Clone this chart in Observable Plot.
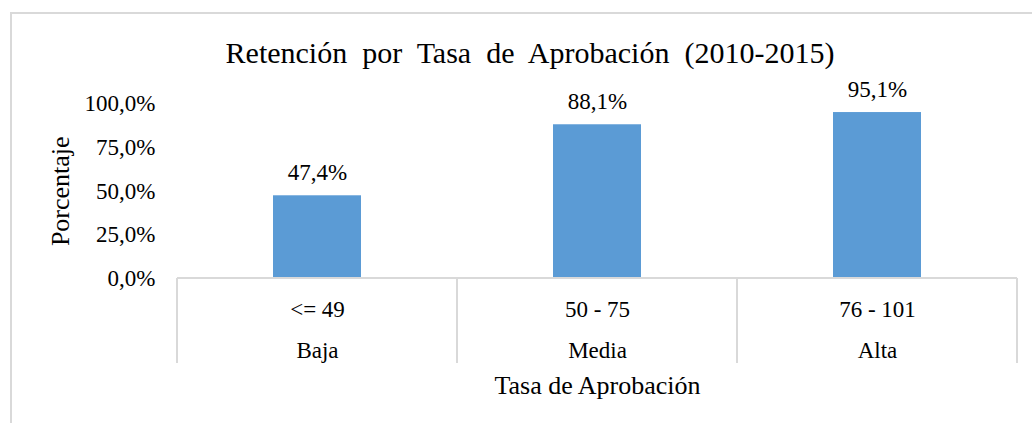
<!DOCTYPE html>
<html>
<head>
<meta charset="utf-8">
<script src="https://cdn.jsdelivr.net/npm/d3@7"></script>
<script src="https://cdn.jsdelivr.net/npm/@observablehq/plot@0.6"></script>
<style>
  html, body { margin: 0; padding: 0; background: #fff; overflow: hidden; width: 1032px; height: 423px; }
  #wrap { position: relative; width: 1032px; height: 423px; font-family: "Liberation Serif", "Times New Roman", serif; }
  #border { position: absolute; left: 10px; top: 12px; width: 1100px; height: 500px; border: 2px solid #d9d9d9; box-sizing: border-box; }
  #title { position: relative; height: 70px; }
  #title span { position: absolute; left: 530px; transform: translateX(-50%); top: 38px; font-size: 30px; line-height: 1; white-space: nowrap; color: #000; word-spacing: 7.5px; }
  #chart { position: relative; }
  #chart svg { display: block; }
</style>
</head>
<body>
<div id="wrap">
  <div id="border"></div>
  <div id="title"><span>Retención por Tasa de Aprobación (2010-2015)</span></div>
  <div id="chart"></div>
</div>
<script>
// Data
const levels = ["Baja", "Media", "Alta"];
const ranges = ["<= 49", "50 - 75", "76 - 101"];
const retention = [47.4, 88.1, 95.1];
const yTicks = [0, 25, 50, 75, 100];
const yLabel = "Porcentaje";
const xLabel = "Tasa de Aprobación";

const data = levels.map((l, i) => ({level: l, range: ranges[i], value: retention[i]}));
const fmt = v => v.toFixed(1).replace(".", ",") + "%";

const W = 1032, H = 353;
const mL = 177, mR = 15, mT = 33.5, mB = 145;
const serif = "Liberation Serif, Times New Roman, serif";
const gridColor = "#d9d9d9";

function dividers(...args) {
  const scales = args.find(a => a && typeof a.x === "function");
  const dims = args.find(a => a && a.marginLeft !== undefined);
  const x = scales.x;
  const bw = x.bandwidth ? x.bandwidth() : 0;
  const step = x.step ? x.step() : (dims.width - dims.marginLeft - dims.marginRight) / levels.length;
  const y0 = dims.height - dims.marginBottom;
  const edges = levels.map(c => x(c) + bw / 2 - step / 2);
  edges.push(x(levels[levels.length - 1]) + bw / 2 + step / 2);
  const g = d3.create("svg:g").attr("stroke", gridColor).attr("stroke-width", 2);
  g.append("line").attr("x1", edges[0]).attr("x2", edges[edges.length - 1]).attr("y1", y0).attr("y2", y0);
  edges.forEach(e => g.append("line").attr("x1", e).attr("x2", e).attr("y1", y0).attr("y2", y0 + 85));
  return g.node();
}

const chart = Plot.plot({
  width: W,
  height: H,
  marginLeft: mL,
  marginRight: mR,
  marginTop: mT,
  marginBottom: mB,
  style: {"font-family": serif, "font-size": "23px", "color": "#000", "background": "transparent", "overflow": "visible"},
  x: {domain: levels, paddingInner: 0.686, paddingOuter: 0.343, axis: null},
  y: {domain: [0, 100], axis: null},
  marks: [
    Plot.barY(data, {x: "level", y: "value", fill: "#5b9bd5"}),
    dividers,
    Plot.axisY({ticks: yTicks, tickSize: 0, tickPadding: 22, tickFormat: fmt, fontSize: 23, fontFamily: serif, label: null}),
    Plot.text(data, {x: "level", y: "value", text: d => fmt(d.value), dy: -23, fontSize: 23, fontFamily: serif, fill: "#000"}),
    Plot.text(data, {x: "level", text: "range", frameAnchor: "bottom", dy: 38, fontSize: 23, fontFamily: serif, fill: "#000"}),
    Plot.text(data, {x: "level", text: "level", frameAnchor: "bottom", dy: 79, fontSize: 23, fontFamily: serif, fill: "#000"}),
    Plot.text([xLabel], {text: d => d, frameAnchor: "bottom", dy: 115, fontSize: 26, fontFamily: serif, fill: "#000"}),
    Plot.text([yLabel], {text: d => d, frameAnchor: "left", textAnchor: "middle", rotate: -90, dx: -117, fontSize: 26, fontFamily: serif, fill: "#000"})
  ]
});
document.getElementById("chart").appendChild(chart);
chart.querySelectorAll("text").forEach(t => { t.style.fontFamily = serif; });
</script>
</body>
</html>
